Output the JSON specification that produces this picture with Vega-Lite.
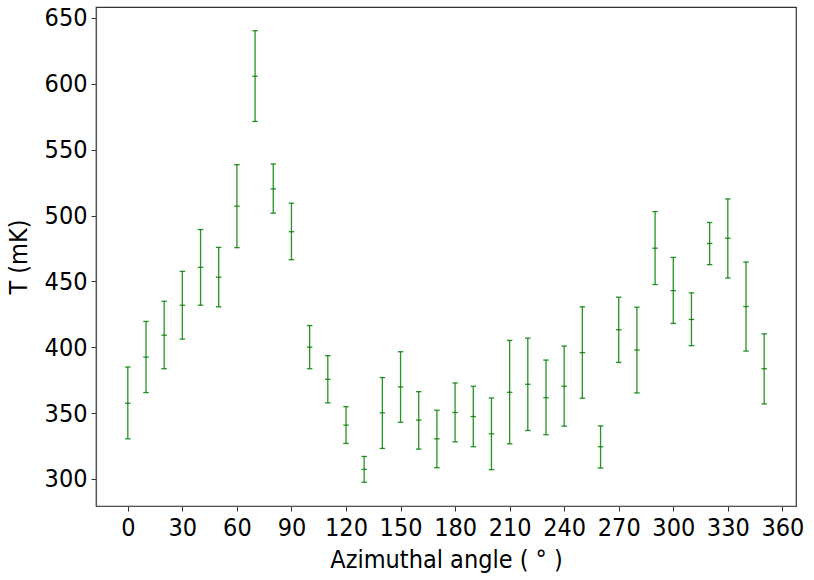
{
  "$schema": "https://vega.github.io/schema/vega-lite/v6.json",
  "width": 700,
  "height": 499,
  "autosize": {"type": "none"},
  "padding": {"left": 96, "top": 7, "right": 18, "bottom": 74},
  "background": "white",
  "config": {
    "view": {"stroke": "#333", "strokeWidth": 1.2},
    "font": "DejaVu Sans Condensed",
    "axis": {
      "grid": false,
      "domainColor": "#555",
      "domainWidth": 1.2,
      "tickColor": "#333",
      "tickSize": 5,
      "labelFont": "DejaVu Sans Condensed",
      "labelFontSize": 25,
      "labelColor": "#000",
      "titleFont": "DejaVu Sans Condensed",
      "titleFontSize": 25,
      "titleFontWeight": "normal",
      "titleColor": "#000",
      "labelPadding": 4
    }
  },
  "data": {
    "values": [
      {"angle": 0, "T": 357.5, "lo": 330.5, "hi": 385.0},
      {"angle": 10, "T": 392.5, "lo": 365.6, "hi": 419.6},
      {"angle": 20, "T": 409.2, "lo": 383.7, "hi": 434.9},
      {"angle": 30, "T": 431.9, "lo": 406.2, "hi": 457.6},
      {"angle": 40, "T": 460.7, "lo": 431.9, "hi": 489.4},
      {"angle": 50, "T": 453.2, "lo": 430.7, "hi": 475.8},
      {"angle": 60, "T": 507.1, "lo": 475.6, "hi": 538.6},
      {"angle": 70, "T": 605.7, "lo": 571.4, "hi": 640.3},
      {"angle": 80, "T": 520.2, "lo": 501.8, "hi": 539.1},
      {"angle": 90, "T": 487.7, "lo": 466.5, "hi": 509.4},
      {"angle": 100, "T": 400.1, "lo": 383.7, "hi": 416.5},
      {"angle": 110, "T": 375.7, "lo": 357.8, "hi": 393.6},
      {"angle": 120, "T": 340.9, "lo": 327.0, "hi": 354.9},
      {"angle": 130, "T": 307.3, "lo": 297.5, "hi": 317.1},
      {"angle": 140, "T": 350.2, "lo": 323.2, "hi": 377.0},
      {"angle": 150, "T": 369.9, "lo": 343.1, "hi": 396.6},
      {"angle": 160, "T": 344.7, "lo": 322.7, "hi": 366.3},
      {"angle": 170, "T": 330.5, "lo": 308.6, "hi": 352.2},
      {"angle": 180, "T": 350.5, "lo": 328.2, "hi": 372.9},
      {"angle": 190, "T": 347.4, "lo": 324.5, "hi": 370.4},
      {"angle": 200, "T": 334.3, "lo": 307.1, "hi": 361.5},
      {"angle": 210, "T": 365.8, "lo": 326.7, "hi": 405.2},
      {"angle": 220, "T": 371.9, "lo": 336.8, "hi": 406.9},
      {"angle": 230, "T": 361.7, "lo": 333.6, "hi": 390.3},
      {"angle": 240, "T": 370.4, "lo": 340.1, "hi": 400.9},
      {"angle": 250, "T": 395.9, "lo": 361.3, "hi": 430.7},
      {"angle": 260, "T": 324.5, "lo": 308.3, "hi": 340.3},
      {"angle": 270, "T": 413.3, "lo": 388.5, "hi": 438.0},
      {"angle": 280, "T": 397.9, "lo": 365.3, "hi": 430.4},
      {"angle": 290, "T": 475.2, "lo": 447.6, "hi": 503.0},
      {"angle": 300, "T": 443.0, "lo": 418.1, "hi": 468.2},
      {"angle": 310, "T": 421.1, "lo": 401.2, "hi": 441.3},
      {"angle": 320, "T": 478.8, "lo": 462.7, "hi": 494.7},
      {"angle": 330, "T": 482.8, "lo": 452.6, "hi": 512.6},
      {"angle": 340, "T": 430.9, "lo": 397.1, "hi": 464.7},
      {"angle": 350, "T": 383.7, "lo": 357.0, "hi": 410.2}
    ]
  },
  "encoding": {
    "x": {
      "field": "angle",
      "type": "quantitative",
      "scale": {"domain": [-17.5, 367.5], "nice": false, "zero": false},
      "axis": {"values": [0, 30, 60, 90, 120, 150, 180, 210, 240, 270, 300, 330, 360], "title": "Azimuthal angle ( ° )", "titlePadding": 7}
    }
  },
  "layer": [
    {
      "mark": {"type": "rule", "color": "#008000", "strokeWidth": 1.3, "opacity": 0.85},
      "encoding": {
        "y": {
          "field": "lo",
          "type": "quantitative",
          "scale": {"domain": [279.5, 658.3], "nice": false, "zero": false},
          "axis": {"values": [300, 350, 400, 450, 500, 550, 600, 650], "title": "T (mK)", "titlePadding": 13}
        },
        "y2": {"field": "hi"}
      }
    },
    {
      "mark": {"type": "point", "shape": "M -1 0 L 1 0", "size": 30, "filled": false, "stroke": "#008000", "strokeWidth": 1.3, "opacity": 0.85},
      "encoding": {"y": {"field": "lo", "type": "quantitative"}}
    },
    {
      "mark": {"type": "point", "shape": "M -1 0 L 1 0", "size": 30, "filled": false, "stroke": "#008000", "strokeWidth": 1.3, "opacity": 0.85},
      "encoding": {"y": {"field": "hi", "type": "quantitative"}}
    },
    {
      "mark": {"type": "point", "shape": "M -1 0 L 1 0", "size": 30, "filled": false, "stroke": "#008000", "strokeWidth": 1.3, "opacity": 0.85},
      "encoding": {"y": {"field": "T", "type": "quantitative"}}
    }
  ]
}
